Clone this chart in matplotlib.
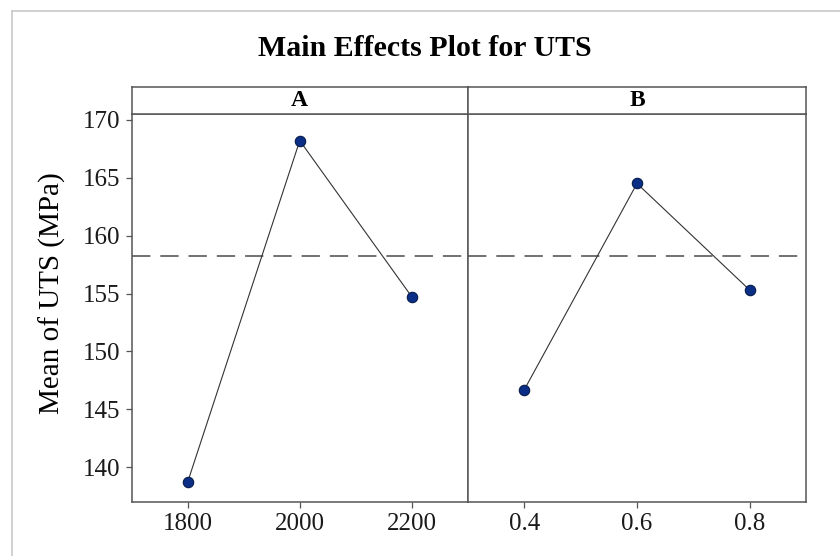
import matplotlib
matplotlib.use("Agg")
import matplotlib.pyplot as plt
from matplotlib.lines import Line2D

# Factor levels and mean UTS at each level
a_levels = [1800, 2000, 2200]
a_means = [138.7, 168.2, 154.7]
b_levels = [0.4, 0.6, 0.8]
b_means = [146.7, 164.5, 155.3]
grand_mean = 158.2

panel_names = ["A", "B"]
y_ticks = [140, 145, 150, 155, 160, 165, 170]

plt.rcParams['font.family'] = ['Liberation Serif', 'DejaVu Serif']

fig = plt.figure(figsize=(8.4, 5.56), dpi=100)

# Light frame along top and left edge
fig.add_artist(Line2D([12/840, 1.0], [1 - 11/556, 1 - 11/556], color='#c8c8c8', lw=1.2,
                      transform=fig.transFigure))
fig.add_artist(Line2D([12/840, 12/840], [0.0, 1 - 11/556], color='#c8c8c8', lw=1.2,
                      transform=fig.transFigure))

fig.text(425/840, 1 - 49/556, "Main Effects Plot for UTS", ha='center', va='center',
         fontsize=21.5, fontweight='bold')

left, mid, right = 131.5/840, 468/840, 806/840
bottom, top = 54/556, 442/556
strip_h = 27/556
edge = '#555555'

panels = [(left, mid, a_levels, a_means, (1700, 2300)),
          (mid, right, b_levels, b_means, (0.3, 0.9))]

axes = []
for i, (x0, x1, levels, means, xlim) in enumerate(panels):
    ax = fig.add_axes([x0, bottom, x1 - x0, top - bottom])
    ax.axhline(grand_mean, color='#4a4a4a', lw=1.1, dashes=(12, 6.5), zorder=1)
    ax.plot(levels, means, color='#333333', lw=0.8, zorder=2)
    ax.plot(levels, means, 'o', ms=7.5, mfc='#0b2f86', mec='#061a4a', mew=0.8, zorder=3)
    ax.set_xlim(*xlim)
    ax.set_ylim(137, 170.5)
    ax.set_xticks(levels)
    ax.set_xticklabels([str(v) for v in levels])
    ax.set_yticks(y_ticks)
    for s in ax.spines.values():
        s.set_color(edge)
        s.set_linewidth(1.1)
    ax.tick_params(axis='both', direction='out', length=4, width=0.9, color=edge,
                   labelsize=18, labelcolor='#1a1a1a', pad=4)
    if i > 0:
        ax.tick_params(axis='y', left=False, labelleft=False)
    axes.append(ax)

    # Strip with the factor name above each panel
    strip = fig.add_axes([x0, top, x1 - x0, strip_h])
    strip.set_xticks([])
    strip.set_yticks([])
    for s in strip.spines.values():
        s.set_color(edge)
        s.set_linewidth(1.1)
    strip.text(0.5, 0.5, panel_names[i], ha='center', va='center', fontsize=17,
               fontweight='bold', transform=strip.transAxes)

axes[0].set_ylabel("Mean of UTS (MPa)", fontsize=21)
axes[0].yaxis.set_label_coords(-0.194, 0.539)

fig.savefig("out.png", dpi=100)
